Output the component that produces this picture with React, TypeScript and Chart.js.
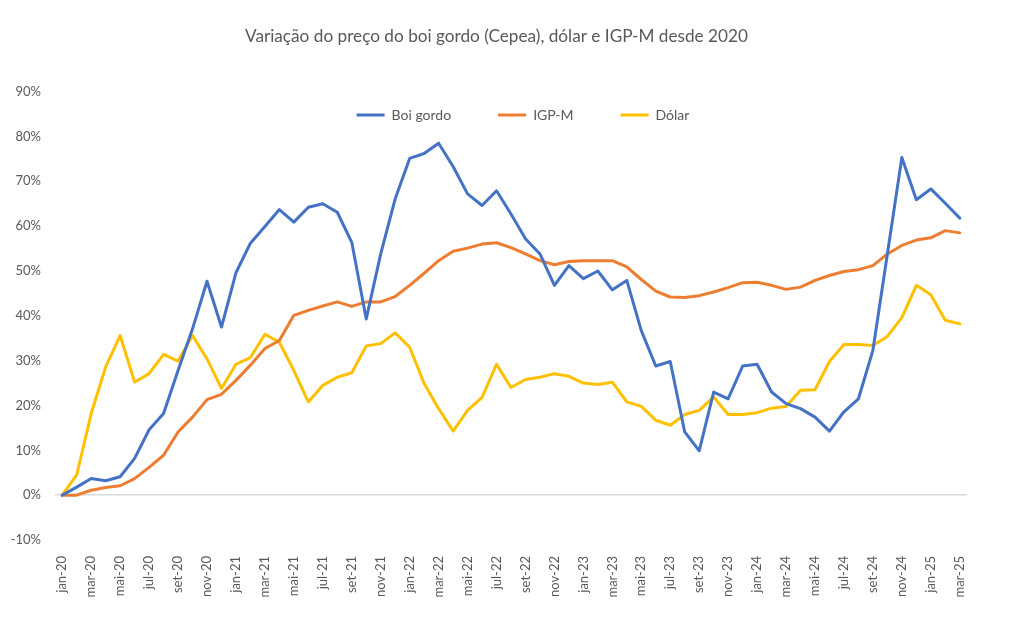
import React, { useEffect, useRef } from "react";
import { Chart, registerables } from "chart.js";

Chart.register(...registerables);

const months: string[] = [
  "jan-20", "fev-20", "mar-20", "abr-20", "mai-20", "jun-20", "jul-20", "ago-20", "set-20", "out-20", "nov-20", "dez-20",
  "jan-21", "fev-21", "mar-21", "abr-21", "mai-21", "jun-21", "jul-21", "ago-21", "set-21", "out-21", "nov-21", "dez-21",
  "jan-22", "fev-22", "mar-22", "abr-22", "mai-22", "jun-22", "jul-22", "ago-22", "set-22", "out-22", "nov-22", "dez-22",
  "jan-23", "fev-23", "mar-23", "abr-23", "mai-23", "jun-23", "jul-23", "ago-23", "set-23", "out-23", "nov-23", "dez-23",
  "jan-24", "fev-24", "mar-24", "abr-24", "mai-24", "jun-24", "jul-24", "ago-24", "set-24", "out-24", "nov-24", "dez-24",
  "jan-25", "fev-25", "mar-25",
];

const boiGordo: number[] = [
  0, 1.8, 3.7, 3.2, 4.1, 8.2, 14.6, 18.2, 27.8, 37.1, 47.7, 37.5,
  49.6, 56.2, 59.9, 63.7, 60.9, 64.2, 65.0, 63.1, 56.4, 39.3, 53.8, 66.1,
  75.1, 76.2, 78.5, 73.3, 67.2, 64.6, 67.9, 62.7, 57.2, 53.8, 46.8, 51.2,
  48.3, 50.0, 45.8, 47.9, 36.7, 28.8, 29.8, 14.1, 9.9, 23.0, 21.5, 28.8,
  29.2, 23.0, 20.4, 19.3, 17.4, 14.3, 18.6, 21.5, 32.3, 53.8, 75.3, 65.9,
  68.3, 65.1, 61.8,
];

const igpm: number[] = [
  0, 0, 1.1, 1.7, 2.1, 3.7, 6.2, 8.9, 14.1, 17.4, 21.3, 22.5,
  25.6, 29.0, 32.7, 34.5, 40.1, 41.2, 42.2, 43.1, 42.1, 43.1, 43.1, 44.3,
  46.8, 49.5, 52.3, 54.4, 55.1, 56.0, 56.3, 55.2, 53.8, 52.3, 51.4, 52.1,
  52.3, 52.3, 52.3, 50.9, 48.1, 45.5, 44.2, 44.1, 44.5, 45.3, 46.3, 47.4,
  47.5, 46.8, 45.9, 46.4, 47.9, 49.0, 49.9, 50.3, 51.2, 53.8, 55.7, 56.9,
  57.4, 59.0, 58.5,
];

const dolar: number[] = [
  0, 4.5, 18.2, 28.6, 35.6, 25.2, 27.1, 31.4, 29.9, 35.6, 30.4, 23.8,
  29.2, 30.7, 35.9, 34.1, 27.8, 20.8, 24.5, 26.3, 27.3, 33.3, 33.8, 36.2,
  33.0, 24.9, 19.3, 14.3, 18.9, 21.8, 29.2, 24.0, 25.8, 26.3, 27.1, 26.5,
  25.0, 24.7, 25.2, 20.8, 19.8, 16.7, 15.6, 18.0, 18.9, 21.9, 18.0, 18.0,
  18.4, 19.4, 19.8, 23.4, 23.5, 29.8, 33.6, 33.6, 33.4, 35.4, 39.6, 46.8,
  44.7, 39.0, 38.2,
];

const seriesNames: string[] = ["Boi gordo", "IGP-M", "Dólar"];
const titleText = "Variação do preço do boi gordo (Cepea), dólar e IGP-M desde 2020";

const TEXT = "#595959";
const FONT = "Lato";

// Places the (horizontal, top) legend inside the plot area without taking layout space,
// and nudges the title to be centred on the whole picture.
const legendInPlot = {
  id: "legendInPlot",
  beforeLayout(chart: any) {
    const l = chart.legend;
    if (l && !l.__patched) {
      const orig = l.fit;
      l.fit = function (this: any) {
        orig.call(this);
        this.__h = this.height;
        this.height = 0;
      };
      l.__patched = true;
    }
  },
  afterLayout(chart: any) {
    const l = chart.legend;
    if (l) {
      const top = 61;
      l.top = top;
      l.bottom = top + (l.__h || 40);
      l.left += 35.5;
      l.right += 35.5;
    }
    const t = chart.titleBlock;
    if (t) {
      t.left += 9;
      t.right += 9;
    }
  },
};

export default function App() {
  const ref = useRef<HTMLCanvasElement | null>(null);

  useEffect(() => {
    if (!ref.current) return;
    const mk = (label: string, data: number[], color: string) => ({
      label,
      data,
      borderColor: color,
      backgroundColor: color,
      borderWidth: 3,
      pointRadius: 0,
      pointHoverRadius: 0,
      tension: 0,
      borderJoinStyle: "round" as const,
      borderCapStyle: "round" as const,
      fill: false,
    });
    const chart = new Chart(ref.current, {
      type: "line",
      data: {
        labels: months,
        datasets: [
          mk(seriesNames[0], boiGordo, "#4472C4"),
          mk(seriesNames[1], igpm, "#ED7D31"),
          mk(seriesNames[2], dolar, "#FFC000"),
        ],
      },
      options: {
        animation: false,
        responsive: true,
        maintainAspectRatio: false,
        layout: { padding: { left: 8, right: 44, top: 0, bottom: 0 } },
        plugins: {
          title: {
            display: true,
            text: titleText,
            color: TEXT,
            font: { family: FONT, size: 17.2, weight: "normal" },
            padding: { top: 26, bottom: 45 },
          },
          legend: {
            display: true,
            position: "top",
            labels: {
              usePointStyle: true,
              pointStyle: "line",
              pointStyleWidth: 28,
              padding: 47,
              color: TEXT,
              font: { family: FONT, size: 14 },
            },
          },
          tooltip: { enabled: false },
        },
        scales: {
          x: {
            offset: true,
            grid: { display: false },
            border: { display: false },
            ticks: {
              autoSkip: false,
              maxRotation: 90,
              minRotation: 90,
              padding: 8,
              color: TEXT,
              font: { family: FONT, size: 13 },
              callback: (_v: any, i: number) => (i % 2 === 0 ? months[i] : ""),
            },
            afterFit: (s: any) => {
              s.height = 89;
            },
          },
          y: {
            min: -10,
            max: 90,
            ticks: {
              stepSize: 10,
              padding: 14,
              color: TEXT,
              font: { family: FONT, size: 13 },
              callback: (v: any) => `${v}%`,
            },
            grid: {
              drawTicks: false,
              color: (ctx: any) => (ctx.tick && ctx.tick.value === 0 ? "#d9d9d9" : "rgba(0,0,0,0)"),
              lineWidth: 1.5,
            },
            border: { display: false },
            afterFit: (s: any) => {
              s.width = 47;
            },
          },
        },
      },
      plugins: [legendInPlot],
    });
    return () => chart.destroy();
  }, []);

  return (
    <div style={{ position: "fixed", left: 0, top: 0, width: 1011, height: 629, background: "#fff" }}>
      <canvas ref={ref} />
    </div>
  );
}
